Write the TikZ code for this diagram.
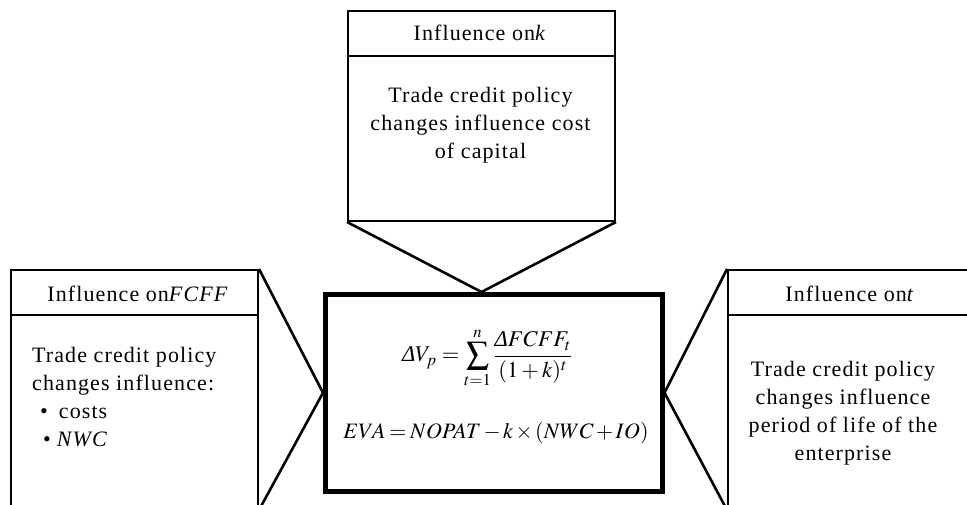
\documentclass[tikz,border=0pt]{standalone}
\usepackage{mathptmx}
\usepackage{fontspec}
\setmainfont{Liberation Serif}[LetterSpace=5]
\begin{document}
\begin{tikzpicture}[x=1pt,y=-1pt,
  boxline/.style={draw=black,line width=2pt,inner sep=0pt,anchor=north west},
  thickbox/.style={draw=black,line width=4.5pt,inner sep=0pt,anchor=north west},
  wedge/.style={line width=2.6pt,line join=miter},
  sepline/.style={line width=2pt},
  hdr/.style={font=\fontsize{22}{26}\selectfont,inner sep=0pt},
  body/.style={font=\fontsize{22}{28}\selectfont,align=center,inner sep=0pt},
  formula/.style={font=\fontsize{22.5}{28}\selectfont,inner sep=0pt}]
\useasboundingbox (0,0) rectangle (967,504);
\clip (0,0) rectangle (967,504);
% boxes
\node[boxline,minimum width=267pt,minimum height=210pt] (top) at (347,10) {};
\node[thickbox,minimum width=337pt,minimum height=197pt] (mid) at (323,292) {};
\node[boxline,minimum width=247pt,minimum height=239pt] (lbox) at (10,269) {};
\node[boxline,minimum width=248pt,minimum height=239pt] (rbox) at (727,269) {};
% header separators
\draw[sepline] ([yshift=-46pt]top.north west) -- ([yshift=-46pt]top.north east);
\draw[sepline] ([yshift=-46pt]lbox.north west) -- ([yshift=-46pt]lbox.north east);
\draw[sepline] ([yshift=-46pt]rbox.north west) -- ([yshift=-46pt]rbox.north east);
% wedges
\coordinate (topapex) at (top.south |- mid.north);
\draw[wedge] (top.south west) -- (topapex) -- (top.south east);
\draw[wedge] (lbox.north east) -- (mid.west) -- (lbox.south east);
\draw[wedge] (rbox.north west) -- (mid.east) -- (rbox.south west);
% texts
\node[hdr] (topH) at (480,33) {Influence on\textit{k}};
\node[body,anchor=north] (topB) at (480.5,87) {Trade credit policy\\changes influence cost\\of capital};
\node[hdr] (lH) at (138,294) {Influence on\textit{FCFF}};
\node[body,align=left,anchor=north west] (lB) at (32,347) {Trade credit policy\\changes influence:\\\hspace*{8pt}\textbullet\hspace{11pt}costs\\\hspace*{11pt}\textbullet\hspace{6pt}\textit{NWC}};
\node[hdr] (rH) at (850,294) {Influence on\textit{t}};
\node[body,anchor=north] (rB) at (843,361) {Trade credit policy\\changes influence\\period of life of the\\enterprise};
\node[formula] (f1) at (487,358) {$\displaystyle \mbox{\itshape Δ}V_p=\sum_{t=1}^{n}\frac{\mbox{\itshape Δ}FCFF_t}{(1+k)^t}$};
\node[formula,font=\fontsize{22}{28}\selectfont] (f2) at (496,433) {$\medmuskip=2mu\thickmuskip=3mu EVA=NOPAT-k\times(NWC+IO)$};
\end{tikzpicture}
\end{document}
